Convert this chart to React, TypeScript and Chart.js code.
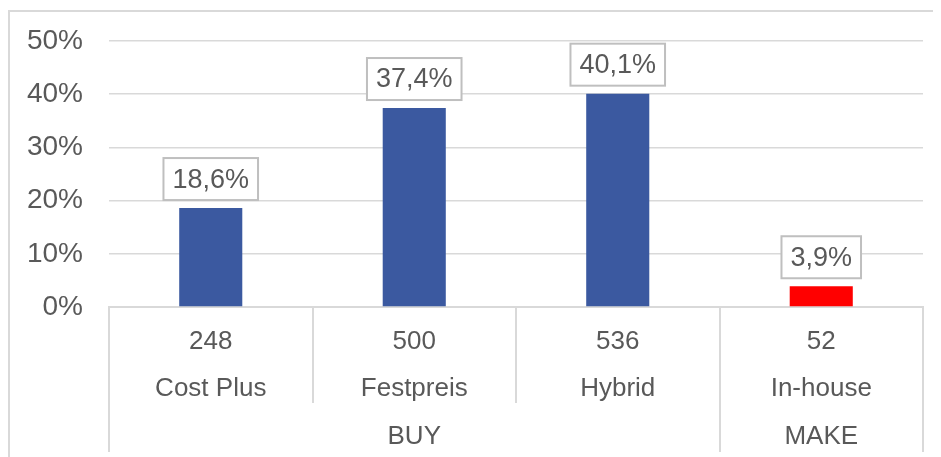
import React, { useEffect, useRef } from "react";
import { Chart, registerables } from "chart.js";

Chart.register(...registerables);

// Share of responses per pricing model (percent)
const categories = ["Cost Plus", "Festpreis", "Hybrid", "In-house"];
const counts = ["248", "500", "536", "52"];
const shares = [18.6, 37.4, 40.1, 3.9];
const groups = ["BUY", "MAKE"];
const groupSpans = [3, 1];
const yTicks = [0, 10, 20, 30, 40, 50];

const BLUE = "#3B59A0";
const RED = "#FF0000";
const TEXT = "#595959";
const LINE = "#d9d9d9";
const FONT = "Arial, 'Liberation Sans', sans-serif";

const barColors = categories.map((c) => (c === "In-house" ? RED : BLUE));

const fmt = (v: number) => v.toFixed(1).replace(".", ",") + "%";

// Boxed value labels above each bar
const valueBoxes = {
  id: "valueBoxes",
  afterDatasetsDraw(chart: any) {
    const { ctx } = chart;
    const meta = chart.getDatasetMeta(0);
    ctx.save();
    ctx.font = `27px ${FONT}`;
    meta.data.forEach((bar: any, i: number) => {
      const label = fmt(shares[i]);
      const w = ctx.measureText(label).width + 18;
      const h = 42;
      const bottom = bar.y - 8;
      const x0 = bar.x - w / 2;
      ctx.fillStyle = "#ffffff";
      ctx.fillRect(x0, bottom - h, w, h);
      ctx.strokeStyle = "#bfbfbf";
      ctx.lineWidth = 2;
      ctx.strokeRect(x0, bottom - h, w, h);
      ctx.fillStyle = TEXT;
      ctx.textAlign = "center";
      ctx.textBaseline = "middle";
      ctx.fillText(label, bar.x, bottom - h / 2 + 1);
    });
    ctx.restore();
  },
};

// Multi-level category axis: counts, names and BUY / MAKE groups
const categoryTable = {
  id: "categoryTable",
  afterDraw(chart: any) {
    const { ctx, chartArea } = chart;
    const xs = chart.scales.x;
    const n = categories.length;
    const step = (chartArea.right - chartArea.left) / n;
    const top = chartArea.bottom;
    const fullBottom = top + 145;
    const shortBottom = top + 96;
    const edge = (k: number) => chartArea.left + k * step;

    ctx.save();
    ctx.strokeStyle = LINE;
    ctx.lineWidth = 2;

    // group boundaries run the full height, inner ones stop above the group row
    const groupEdges = new Set<number>([0]);
    let acc = 0;
    groupSpans.forEach((s) => {
      acc += s;
      groupEdges.add(acc);
    });
    for (let k = 0; k <= n; k++) {
      const x = Math.round(edge(k));
      ctx.beginPath();
      ctx.moveTo(x, top);
      ctx.lineTo(x, groupEdges.has(k) ? fullBottom : shortBottom);
      ctx.stroke();
    }

    ctx.fillStyle = TEXT;
    ctx.textAlign = "center";
    ctx.textBaseline = "alphabetic";
    ctx.font = `26px ${FONT}`;
    categories.forEach((c, i) => {
      const cx = xs.getPixelForValue(i);
      ctx.fillText(counts[i], cx, top + 42);
      ctx.fillText(c, cx, top + 89);
    });

    let start = 0;
    groups.forEach((g, gi) => {
      const end = start + groupSpans[gi];
      ctx.fillText(g, (edge(start) + edge(end)) / 2, top + 137);
      start = end;
    });
    ctx.restore();
  },
};

export default function App() {
  const ref = useRef<HTMLCanvasElement>(null);

  useEffect(() => {
    if (!ref.current) return;
    const chart = new Chart(ref.current, {
      type: "bar",
      data: {
        labels: categories,
        datasets: [
          {
            data: shares,
            backgroundColor: barColors,
            borderWidth: 0,
            categoryPercentage: 1,
            barPercentage: 0.31,
          },
        ],
      },
      options: {
        animation: false,
        responsive: false,
        layout: { padding: { top: 29, right: 18, bottom: 0, left: 0 } },
        plugins: {
          legend: { display: false },
          tooltip: { enabled: false },
        },
        scales: {
          x: {
            grid: { display: false },
            border: { display: true, color: LINE, width: 2 },
            ticks: { display: false },
            afterFit: (s: any) => {
              s.height = 150;
            },
          },
          y: {
            min: 0,
            max: 50,
            afterBuildTicks: (s: any) => {
              s.ticks = yTicks.map((v) => ({ value: v }));
            },
            grid: { color: LINE, lineWidth: 1.5, drawTicks: false },
            border: { display: false },
            ticks: {
              padding: 26,
              color: TEXT,
              font: { size: 28, family: FONT },
              callback: (v: any) => `${v}%`,
            },
            afterFit: (s: any) => {
              s.width = 99;
              s.paddingTop = 0;
              s.paddingBottom = 0;
            },
          },
        },
      },
      plugins: [valueBoxes, categoryTable],
    });
    return () => chart.destroy();
  }, []);

  return (
    <div
      style={{
        marginTop: 2,
        borderTop: `2px solid ${LINE}`,
        borderLeft: `2px solid ${LINE}`,
        width: 931,
        height: 445,
        overflow: "hidden",
      }}
    >
      <canvas ref={ref} width={931} height={445} style={{ display: "block" }} />
    </div>
  );
}
